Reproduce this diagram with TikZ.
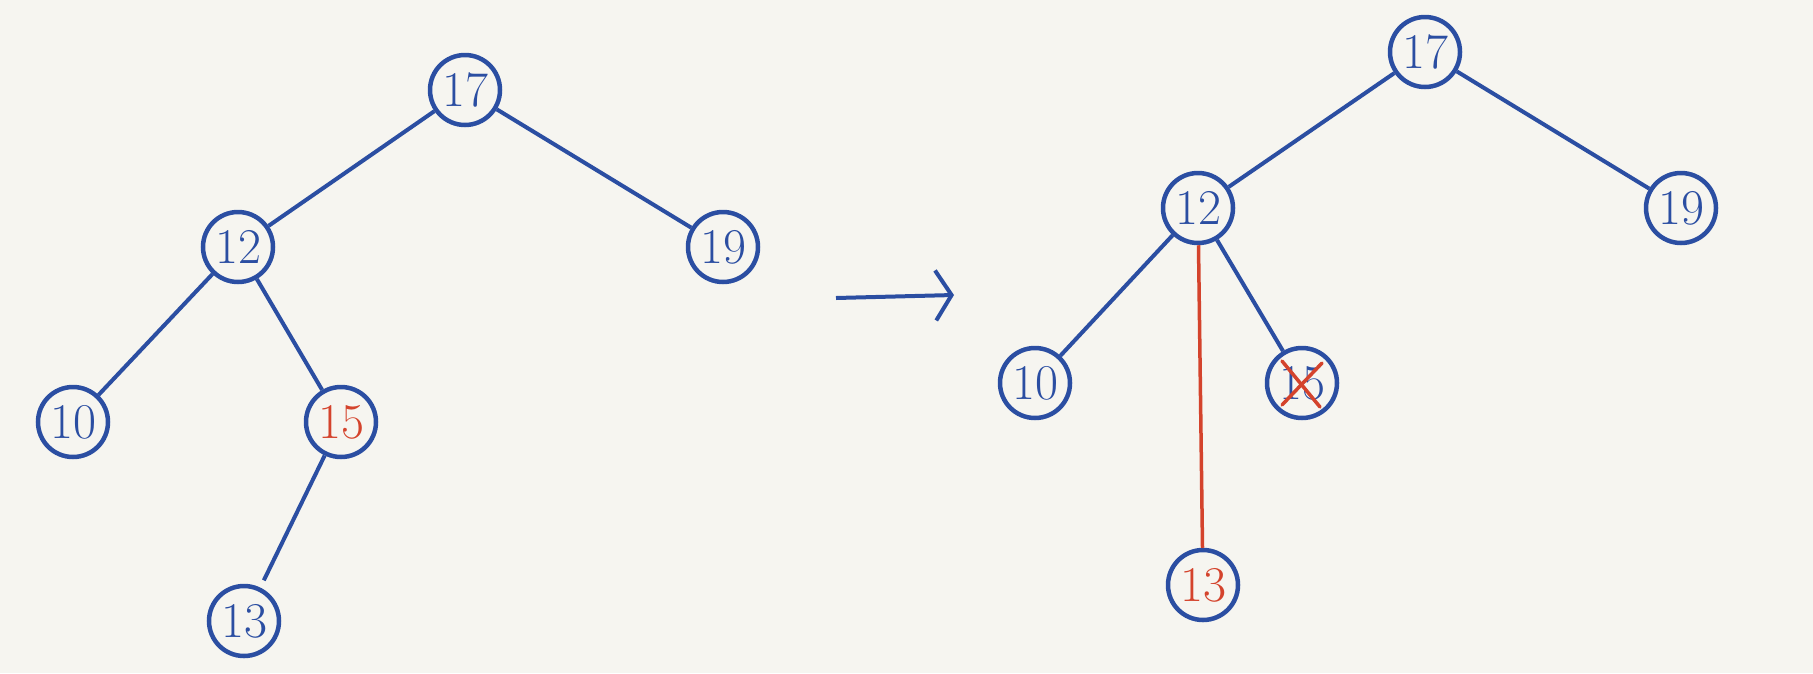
\documentclass[tikz,border=0pt]{standalone}
\usepackage{tikz}
\usetikzlibrary{arrows.meta,positioning,calc}
\definecolor{paper}{HTML}{F6F5F0}
\definecolor{inkblue}{HTML}{2B4EA2}
\definecolor{inkred}{HTML}{D4432C}
\tikzstyle{key}=[draw=inkblue, circle, line width=4.5pt, minimum size=70pt, inner sep=0pt, text=inkblue, font=\fontsize{50}{50}\selectfont]
\tikzstyle{link}=[draw=inkblue, line width=4pt]
\tikzstyle{moved}=[draw=inkred, line width=3.5pt]

\begin{document}
\begin{tikzpicture}[x=1pt,y=-1pt]
      \fill[paper] (0,0) rectangle (1813,673);
      \useasboundingbox (0,0) rectangle (1813,673);
      % before deletion
      \node [key] (a17) at (465,90) {17};
      \node [key] (a12) at (238,247) {12};
      \node [key] (a19) at (723,247) {19};
      \node [key] (a10) at (73,422) {10};
      \node [key, text=inkred] (a15) at (341,422) {15};
      \node [key] (a13) at (244,621) {13};
      \draw[link] (a17) -- (a12);
      \draw[link] (a17) -- (a19);
      \draw[link] (a12) -- (a10);
      \draw[link] (a12) -- (a15);
      \draw[link, shorten >=8pt] (a15) -- (a13);

      % arrow
      \coordinate (from) at (836,298);
      \coordinate (to) at (954,295);
      \draw[link, -{Straight Barb[length=16pt,width=50pt,line width=4pt]}] (from) -- (to);

      % after deletion
      \node [key] (b17) at (1425,52) {17};
      \node [key] (b12) at (1198,208) {12};
      \node [key] (b19) at (1681,208) {19};
      \node [key] (b10) at (1035,383) {10};
      \node [key] (b15) at (1302,383) {15};
      \node [key, text=inkred] (b13) at (1203,585) {13};
      \draw[link] (b17) -- (b12);
      \draw[link] (b17) -- (b19);
      \draw[link] (b12) -- (b10);
      \draw[link] (b12) -- (b15);
      \draw[moved] (b12) -- (b13);
      \draw[moved, line cap=round] ($(b15)+(-20,-22)$) -- ($(b15)+(18,24)$);
      \draw[moved, line cap=round] ($(b15)+(20,-20)$) -- ($(b15)+(-20,22)$);
\end{tikzpicture}
\end{document}
